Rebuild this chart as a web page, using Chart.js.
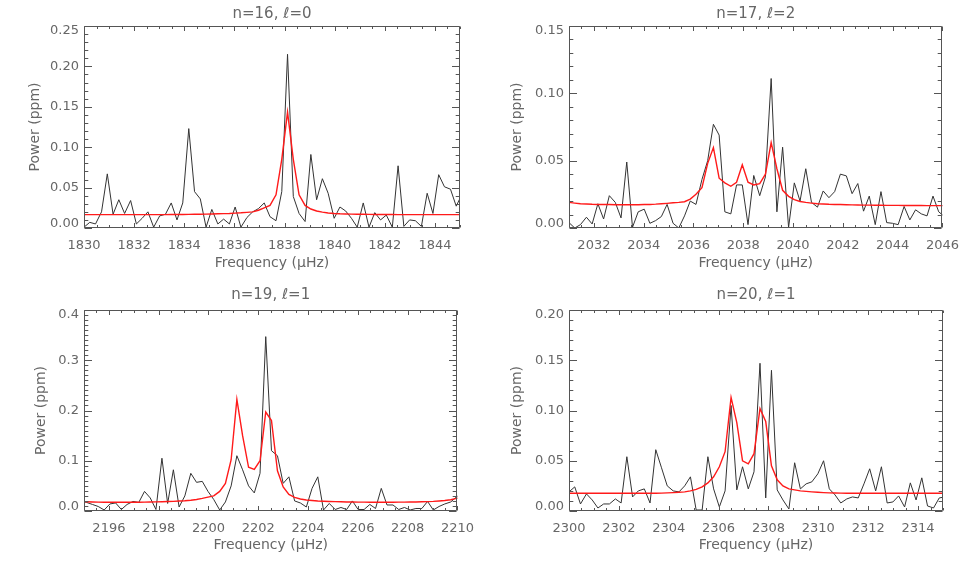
<!DOCTYPE html>
<html>
<head>
<meta charset="utf-8">
<script src="https://cdn.jsdelivr.net/npm/chart.js@4.4.0/dist/chart.umd.min.js"></script>
<style>
  html, body { margin: 0; padding: 0; background: #fff; }
  #wrap { position: relative; width: 969px; height: 565px; overflow: hidden; }
  #wrap canvas { position: absolute; }
</style>
</head>
<body>
<div id="wrap">
  <canvas id="p16" width="484" height="282" style="left:0;top:0"></canvas>
  <canvas id="p17" width="485" height="282" style="left:484px;top:0"></canvas>
  <canvas id="p19" width="484" height="283" style="left:0;top:282px"></canvas>
  <canvas id="p20" width="485" height="283" style="left:484px;top:282px"></canvas>
</div>
<script>
// ---- data: frequency bins (uHz), observed power and fitted profile (ppm) ----
const freq16 = [1830.00, 1830.23, 1830.46, 1830.70, 1830.93, 1831.16, 1831.39, 1831.62, 1831.86, 1832.09,
  1832.32, 1832.55, 1832.78, 1833.02, 1833.25, 1833.48, 1833.71, 1833.94, 1834.18, 1834.41,
  1834.64, 1834.87, 1835.10, 1835.34, 1835.57, 1835.80, 1836.03, 1836.26, 1836.50, 1836.73,
  1836.96, 1837.19, 1837.42, 1837.66, 1837.89, 1838.12, 1838.35, 1838.58, 1838.82, 1839.05,
  1839.28, 1839.51, 1839.74, 1839.98, 1840.21, 1840.44, 1840.67, 1840.90, 1841.14, 1841.37,
  1841.60, 1841.83, 1842.06, 1842.30, 1842.53, 1842.76, 1842.99, 1843.22, 1843.46, 1843.69,
  1843.92, 1844.15, 1844.38, 1844.62, 1844.85, 1845.08];
const power16 = [0.001, 0.007, 0.005, 0.020, 0.067, 0.017, 0.035, 0.018, 0.034, 0.005,
  0.012, 0.020, 0.001, 0.015, 0.017, 0.031, 0.010, 0.031, 0.123, 0.045,
  0.036, 0.001, 0.023, 0.005, 0.011, 0.005, 0.026, 0.001, 0.013, 0.020,
  0.024, 0.031, 0.014, 0.009, 0.045, 0.215, 0.039, 0.018, 0.008, 0.091,
  0.035, 0.061, 0.043, 0.012, 0.026, 0.021, 0.012, 0.001, 0.031, 0.001,
  0.019, 0.010, 0.016, 0.001, 0.077, 0.002, 0.010, 0.009, 0.002, 0.043,
  0.018, 0.066, 0.051, 0.048, 0.027, 0.042];
const fit16 = [0.0165, 0.0165, 0.0165, 0.0165, 0.0165, 0.0165, 0.0165, 0.0165, 0.0165, 0.0165,
  0.0165, 0.0165, 0.0165, 0.0166, 0.0166, 0.0167, 0.0167, 0.0168, 0.0169, 0.0170,
  0.0171, 0.0172, 0.0174, 0.0176, 0.0178, 0.0180, 0.0184, 0.0188, 0.0194, 0.0200,
  0.0220, 0.0250, 0.0280, 0.0410, 0.0850, 0.1435, 0.0850, 0.0410, 0.0280, 0.0235,
  0.0210, 0.0196, 0.0186, 0.0180, 0.0176, 0.0174, 0.0172, 0.0171, 0.0170, 0.0169,
  0.0168, 0.0168, 0.0167, 0.0167, 0.0166, 0.0166, 0.0166, 0.0165, 0.0165, 0.0165,
  0.0165, 0.0165, 0.0165, 0.0165, 0.0165, 0.0165];

const freq17 = [2031.00, 2031.23, 2031.46, 2031.70, 2031.93, 2032.16, 2032.39, 2032.62, 2032.86, 2033.09,
  2033.32, 2033.55, 2033.78, 2034.02, 2034.25, 2034.48, 2034.71, 2034.94, 2035.18, 2035.41,
  2035.64, 2035.87, 2036.10, 2036.34, 2036.57, 2036.80, 2037.03, 2037.26, 2037.50, 2037.73,
  2037.96, 2038.19, 2038.42, 2038.66, 2038.89, 2039.12, 2039.35, 2039.58, 2039.82, 2040.05,
  2040.28, 2040.51, 2040.74, 2040.98, 2041.21, 2041.44, 2041.67, 2041.90, 2042.14, 2042.37,
  2042.60, 2042.83, 2043.06, 2043.30, 2043.53, 2043.76, 2043.99, 2044.22, 2044.46, 2044.69,
  2044.92, 2045.15, 2045.38, 2045.62, 2045.85, 2046.08];
const power17 = [0.0040, 0.0000, 0.0025, 0.0080, 0.0030, 0.0180, 0.0067, 0.0240, 0.0190, 0.0075,
  0.0490, 0.0005, 0.0120, 0.0140, 0.0035, 0.0055, 0.0085, 0.0175, 0.0035, 0.0000,
  0.0090, 0.0200, 0.0175, 0.0360, 0.0500, 0.0770, 0.0690, 0.0120, 0.0105, 0.0320,
  0.0320, 0.0025, 0.0390, 0.0240, 0.0380, 0.1110, 0.0120, 0.0600, 0.0005, 0.0335,
  0.0200, 0.0440, 0.0190, 0.0155, 0.0275, 0.0225, 0.0270, 0.0400, 0.0387, 0.0255,
  0.0330, 0.0125, 0.0237, 0.0025, 0.0270, 0.0040, 0.0035, 0.0025, 0.0160, 0.0060,
  0.0135, 0.0105, 0.0090, 0.0237, 0.0120, 0.0085];
const fit17 = [0.0190, 0.0185, 0.0180, 0.0178, 0.0176, 0.0175, 0.0174, 0.0174, 0.0173, 0.0173,
  0.0173, 0.0173, 0.0173, 0.0174, 0.0175, 0.0177, 0.0180, 0.0183, 0.0187, 0.0190,
  0.0195, 0.0215, 0.0250, 0.0300, 0.0480, 0.0597, 0.0370, 0.0335, 0.0310, 0.0340,
  0.0470, 0.0340, 0.0320, 0.0330, 0.0400, 0.0634, 0.0440, 0.0280, 0.0235, 0.0210,
  0.0197, 0.0190, 0.0185, 0.0180, 0.0178, 0.0176, 0.0175, 0.0174, 0.0173, 0.0172,
  0.0171, 0.0170, 0.0170, 0.0169, 0.0169, 0.0168, 0.0168, 0.0168, 0.0167, 0.0167,
  0.0167, 0.0167, 0.0166, 0.0166, 0.0166, 0.0166];

const freq19 = [2194.88,
  2195.11, 2195.34, 2195.57, 2195.81, 2196.04, 2196.27, 2196.50, 2196.73, 2196.97, 2197.20,
  2197.43, 2197.66, 2197.89, 2198.13, 2198.36, 2198.59, 2198.82, 2199.05, 2199.29, 2199.52,
  2199.75, 2199.98, 2200.21, 2200.45, 2200.68, 2200.91, 2201.14, 2201.37, 2201.61, 2201.84,
  2202.07, 2202.30, 2202.53, 2202.77, 2203.00, 2203.23, 2203.46, 2203.69, 2203.93, 2204.16,
  2204.39, 2204.62, 2204.85, 2205.09, 2205.32, 2205.55, 2205.78, 2206.01, 2206.25, 2206.48,
  2206.71, 2206.94, 2207.17, 2207.41, 2207.64, 2207.87, 2208.10, 2208.33, 2208.57, 2208.80,
  2209.03, 2209.26, 2209.49, 2209.73, 2209.96, 2210.19];
const power19 = [0.020,
  0.017, 0.013, 0.009, 0.002, 0.014, 0.016, 0.003, 0.013, 0.019, 0.017,
  0.039, 0.026, 0.003, 0.105, 0.015, 0.082, 0.008, 0.030, 0.075, 0.057,
  0.059, 0.039, 0.023, 0.002, 0.018, 0.050, 0.110, 0.082, 0.050, 0.036,
  0.075, 0.347, 0.120, 0.110, 0.055, 0.068, 0.020, 0.016, 0.008, 0.045,
  0.068, 0.002, 0.015, 0.003, 0.007, 0.003, 0.020, 0.003, 0.003, 0.013,
  0.005, 0.045, 0.012, 0.012, 0.003, 0.007, 0.002, 0.005, 0.005, 0.019,
  0.002, 0.009, 0.014, 0.018, 0.028, 0.035];
const fit19 = [0.0190,
  0.0185, 0.0180, 0.0177, 0.0175, 0.0174, 0.0173, 0.0173, 0.0173, 0.0174, 0.0175,
  0.0177, 0.0179, 0.0182, 0.0185, 0.0188, 0.0192, 0.0198, 0.0205, 0.0215, 0.0230,
  0.0250, 0.0275, 0.0300, 0.0390, 0.0550, 0.1020, 0.2220, 0.1500, 0.0870, 0.0830,
  0.1000, 0.1970, 0.1800, 0.0800, 0.0480, 0.0330, 0.0270, 0.0240, 0.0220, 0.0210,
  0.0200, 0.0195, 0.0190, 0.0186, 0.0183, 0.0180, 0.0178, 0.0177, 0.0176, 0.0175,
  0.0175, 0.0175, 0.0175, 0.0175, 0.0176, 0.0177, 0.0178, 0.0180, 0.0183, 0.0187,
  0.0192, 0.0200, 0.0210, 0.0225, 0.0250, 0.0290];

const freq20 = [2300.00, 2300.23, 2300.46, 2300.70, 2300.93, 2301.16, 2301.39, 2301.62, 2301.86, 2302.09,
  2302.32, 2302.55, 2302.78, 2303.02, 2303.25, 2303.48, 2303.71, 2303.94, 2304.18, 2304.41,
  2304.64, 2304.87, 2305.10, 2305.34, 2305.57, 2305.80, 2306.03, 2306.26, 2306.50, 2306.73,
  2306.96, 2307.19, 2307.42, 2307.66, 2307.89, 2308.12, 2308.35, 2308.58, 2308.82, 2309.05,
  2309.28, 2309.51, 2309.74, 2309.98, 2310.21, 2310.44, 2310.67, 2310.90, 2311.14, 2311.37,
  2311.60, 2311.83, 2312.06, 2312.30, 2312.53, 2312.76, 2312.99, 2313.22, 2313.46, 2313.69,
  2313.92, 2314.15, 2314.38, 2314.62, 2314.85, 2315.08];
const power20 = [0.019, 0.024, 0.007, 0.017, 0.011, 0.003, 0.007, 0.007, 0.012, 0.008,
  0.054, 0.014, 0.020, 0.022, 0.008, 0.061, 0.043, 0.025, 0.020, 0.019,
  0.025, 0.034, 0.001, 0.001, 0.054, 0.022, 0.004, 0.020, 0.105, 0.021,
  0.044, 0.022, 0.039, 0.147, 0.013, 0.140, 0.021, 0.011, 0.002, 0.048,
  0.022, 0.027, 0.029, 0.037, 0.050, 0.022, 0.016, 0.008, 0.012, 0.014,
  0.013, 0.027, 0.042, 0.020, 0.044, 0.008, 0.009, 0.015, 0.004, 0.028,
  0.011, 0.033, 0.005, 0.003, 0.013, 0.014];
const fit20 = [0.0176, 0.0176, 0.0176, 0.0176, 0.0176, 0.0176, 0.0176, 0.0176, 0.0176, 0.0176,
  0.0176, 0.0176, 0.0176, 0.0176, 0.0176, 0.0177, 0.0178, 0.0180, 0.0183, 0.0187,
  0.0190, 0.0200, 0.0215, 0.0240, 0.0280, 0.0340, 0.0440, 0.0590, 0.1130, 0.0880,
  0.0500, 0.0470, 0.0570, 0.1020, 0.0890, 0.0450, 0.0310, 0.0250, 0.0220, 0.0210,
  0.0200, 0.0195, 0.0190, 0.0186, 0.0183, 0.0180, 0.0179, 0.0178, 0.0177, 0.0177,
  0.0176, 0.0176, 0.0176, 0.0176, 0.0176, 0.0176, 0.0176, 0.0176, 0.0176, 0.0176,
  0.0176, 0.0176, 0.0176, 0.0176, 0.0176, 0.0176];

// ---- tick labels ----
const xTicks16 = ['1830', '1832', '1834', '1836', '1838', '1840', '1842', '1844'];
const xTicks17 = ['2032', '2034', '2036', '2038', '2040', '2042', '2044', '2046'];
const xTicks19 = ['2196', '2198', '2200', '2202', '2204', '2206', '2208', '2210'];
const xTicks20 = ['2300', '2302', '2304', '2306', '2308', '2310', '2312', '2314'];
const yTicks16 = ['0.00', '0.05', '0.10', '0.15', '0.20', '0.25'];
const yTicks17 = ['0.00', '0.05', '0.10', '0.15'];
const yTicks19 = ['0.0', '0.1', '0.2', '0.3', '0.4'];
const yTicks20 = ['0.00', '0.05', '0.10', '0.15', '0.20'];

const titles = ['n=16, \u2113=0', 'n=17, \u2113=2', 'n=19, \u2113=1', 'n=20, \u2113=1'];

const FONT = 'DejaVu Sans';
const TEXT = '#676767';
const AXIS = '#555555';

// IDL-style box: frame, inward ticks on all four sides, y labels nudged inside at the ends
const idlFrame = {
    id: 'idlFrame',
    afterDatasetsDraw(chart, args, opts) {
        const { ctx, chartArea: a, scales: { x, y } } = chart;
        const L = Math.round(a.left) + 0.5, R = Math.round(a.right) - 0.5;
        const T = Math.round(a.top) + 0.5, B = Math.round(a.bottom) - 0.5;
        ctx.save();
        ctx.strokeStyle = AXIS;
        ctx.lineWidth = 1;
        ctx.beginPath();
        ctx.rect(L, T, R - L, B - T);

        const xMaj = x.ticks.map(t => t.value);
        for (let i = Math.ceil(x.min / opts.xMinor - 1e-6); i * opts.xMinor <= x.max + 1e-6; i++) {
            const v = i * opts.xMinor;
            const major = xMaj.some(m => Math.abs(m - v) < 1e-6);
            const len = major ? 4.5 : 2.5;
            const px = Math.round(x.getPixelForValue(v)) + 0.5;
            ctx.moveTo(px, B); ctx.lineTo(px, B - len);
            ctx.moveTo(px, T); ctx.lineTo(px, T + len);
        }
        const yMaj = y.ticks.map(t => t.value);
        for (let i = Math.ceil(y.min / opts.yMinor - 1e-6); i * opts.yMinor <= y.max + 1e-6; i++) {
            const v = i * opts.yMinor;
            const major = yMaj.some(m => Math.abs(m - v) < 1e-6);
            const len = major ? 7.5 : 3.8;
            const py = Math.round(y.getPixelForValue(v)) + 0.5;
            ctx.moveTo(L, py); ctx.lineTo(L + len, py);
            ctx.moveTo(R, py); ctx.lineTo(R - len, py);
        }
        ctx.stroke();

        ctx.fillStyle = TEXT;
        ctx.font = '13px "' + FONT + '"';
        ctx.textAlign = 'right';
        ctx.textBaseline = 'middle';
        opts.yLabels.forEach(lbl => {
            const v = Number(lbl);
            let py = y.getPixelForValue(v);
            if (Math.abs(v - y.min) < 1e-9) py -= 4.5;
            if (Math.abs(v - y.max) < 1e-9) py += 5;
            ctx.fillText(lbl, a.left - 5, py);
        });
        ctx.restore();
    }
};

const panels = [
    { id: 'p16', title: titles[0], freq: freq16, power: power16, fit: fit16,
      xMin: 1830, xMax: 1845, yMax: 0.25, xLabels: xTicks16, yLabels: yTicks16, yMinor: 0.01,
      yWidth: 84, padRight: 24, padTop: 0, titlePad: { top: 5.3, bottom: 2.7 }, yTitlePad: 26.6, xTitlePad: 10.6 },
    { id: 'p17', title: titles[1], freq: freq17, power: power17, fit: fit17,
      xMin: 2031, xMax: 2046, yMax: 0.15, xLabels: xTicks17, yLabels: yTicks17, yMinor: 0.01,
      yWidth: 85, padRight: 26, padTop: 0, titlePad: { top: 5.3, bottom: 2.7 }, yTitlePad: 24.6, xTitlePad: 10.6 },
    { id: 'p19', title: titles[2], freq: freq19, power: power19, fit: fit19,
      xMin: 2195, xMax: 2210, yMax: 0.4, xLabels: xTicks19, yLabels: yTicks19, yMinor: 0.01,
      yWidth: 84, padRight: 25, padTop: 0, titlePad: { top: 4.3, bottom: 5.7 }, yTitlePad: 33.3, xTitlePad: 11.6 },
    { id: 'p20', title: titles[3], freq: freq20, power: power20, fit: fit20,
      xMin: 2300, xMax: 2315, yMax: 0.2, xLabels: xTicks20, yLabels: yTicks20, yMinor: 0.01,
      yWidth: 85, padRight: 26, padTop: 0, titlePad: { top: 4.3, bottom: 5.7 }, yTitlePad: 24.9, xTitlePad: 11.6 }
];

class SpectrumPanels {
    constructor(list) {
        this.charts = [];
        list.forEach(p => this.charts.push(this.initPanel(p)));
    }

    initPanel(p) {
        const ctx = document.getElementById(p.id).getContext('2d');
        const pts = arr => p.freq.map((f, i) => ({ x: f, y: arr[i] }));
        return new Chart(ctx, {
            type: 'line',
            data: {
                datasets: [
                    { label: 'fit', data: pts(p.fit), borderColor: '#ff1a1a', borderWidth: 1.4,
                      pointRadius: 0, pointHitRadius: 0, order: 0 },
                    { label: 'power', data: pts(p.power), borderColor: '#333333', borderWidth: 1,
                      pointRadius: 0, pointHitRadius: 0, order: 1 }
                ]
            },
            options: {
                responsive: false,
                animation: false,
                events: [],
                layout: { padding: { left: 0, right: p.padRight, top: p.padTop, bottom: 0 } },
                plugins: {
                    legend: { display: false },
                    tooltip: { enabled: false },
                    title: {
                        display: true, text: p.title, fullSize: false, color: TEXT,
                        font: { family: FONT, size: 15, weight: 'normal', lineHeight: 1.2 },
                        padding: p.titlePad
                    },
                    idlFrame: { xMinor: 0.5, yMinor: p.yMinor, yLabels: p.yLabels }
                },
                scales: {
                    x: {
                        type: 'linear', min: p.xMin, max: p.xMax,
                        grid: { display: false, drawTicks: false, tickLength: 0 },
                        border: { display: false },
                        afterBuildTicks: s => { s.ticks = p.xLabels.map(t => ({ value: Number(t) })); },
                        afterFit: s => { s.height = 54; },
                        ticks: {
                            autoSkip: false, maxRotation: 0, padding: 10, color: TEXT,
                            font: { family: FONT, size: 13 },
                            callback: v => String(v)
                        },
                        title: {
                            display: true, text: 'Frequency (\u03bcHz)', color: TEXT,
                            font: { family: FONT, size: 14, lineHeight: 1.2 },
                            padding: { top: 0, bottom: p.xTitlePad }
                        }
                    },
                    y: {
                        type: 'linear', min: 0, max: p.yMax,
                        grid: { display: false, drawTicks: false, tickLength: 0 },
                        border: { display: false },
                        afterBuildTicks: s => { s.ticks = p.yLabels.map(t => ({ value: Number(t) })); },
                        afterFit: s => { s.width = p.yWidth; },
                        ticks: { display: false },
                        title: {
                            display: true, text: 'Power (ppm)', color: TEXT,
                            font: { family: FONT, size: 14, lineHeight: 1.2 },
                            padding: { top: p.yTitlePad, bottom: 0 }
                        }
                    }
                }
            },
            plugins: [idlFrame]
        });
    }

    destroy() {
        this.charts.forEach(c => c?.destroy());
    }
}

new SpectrumPanels(panels);
</script>
</body>
</html>
